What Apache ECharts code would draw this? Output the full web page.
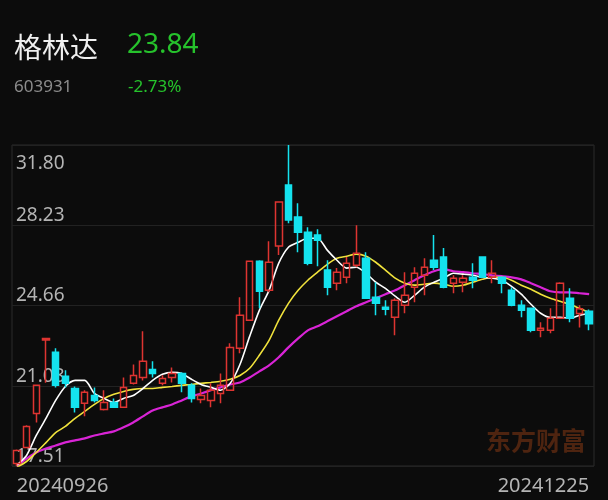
<!DOCTYPE html>
<html>
<head>
<meta charset="utf-8">
<script src="https://cdn.jsdelivr.net/npm/echarts@6/dist/echarts.min.js"></script>
<style>
html,body{margin:0;padding:0;background:#0c0c0c;}
#c{width:608px;height:500px;}
</style>
</head>
<body>
<div id="c"></div>
<script>
const stockName = '格林达';
const stockCode = '603931';
const lastPrice = '23.84';
const changePct = '-2.73%';
const watermark = '东方财富';

const dates = [
 '20240926','20240927','20240930',
 '20241008','20241009','20241010','20241011','20241014','20241015','20241016','20241017','20241018',
 '20241021','20241022','20241023','20241024','20241025','20241028','20241029','20241030','20241031',
 '20241101','20241104','20241105','20241106','20241107','20241108','20241111','20241112','20241113',
 '20241114','20241115','20241118','20241119','20241120','20241121','20241122','20241125','20241126',
 '20241127','20241128','20241129',
 '20241202','20241203','20241204','20241205','20241206','20241209','20241210','20241211','20241212',
 '20241213','20241216','20241217','20241218','20241219','20241220','20241223','20241224','20241225'
];

// [open, close, low, high]
const ohlc = [
 [17.62,18.20,17.51,18.25],[18.33,19.27,18.30,19.32],[19.85,21.10,19.45,21.12],[23.12,23.19,21.22,23.19],
 [22.57,21.10,21.01,22.75],[21.50,21.19,21.01,21.77],[20.96,20.12,19.89,21.05],[20.30,20.79,19.72,20.88],
 [20.65,20.43,20.34,21.01],[20.03,20.34,19.98,20.88],[20.34,20.12,20.10,20.52],[20.12,21.01,20.10,21.45],
 [21.19,21.54,21.14,22.03],[21.45,22.17,21.32,23.51],[21.81,21.63,21.45,22.17],[21.19,21.40,21.10,21.55],
 [21.45,21.63,21.23,21.90],[21.63,21.19,20.79,21.68],[21.10,20.52,20.34,21.19],[20.47,20.65,20.30,20.96],
 [20.43,20.88,20.12,21.19],[20.74,21.10,20.30,21.63],[20.88,22.79,20.85,22.97],[22.75,24.22,22.53,25.02],
 [24.00,26.63,23.98,26.65],[26.63,25.29,24.53,26.67],[25.33,26.58,25.25,27.52],[27.30,29.26,26.90,29.28],
 [30.02,28.46,28.32,31.80],[28.59,27.92,27.03,29.21],[27.92,26.54,26.45,28.14],[27.79,27.56,26.40,28.05],
 [26.23,25.47,25.11,26.67],[25.65,26.14,25.33,26.32],[25.91,26.54,25.65,26.81],[26.45,26.98,26.36,28.23],
 [26.76,24.98,24.96,27.03],[25.02,24.75,24.22,25.69],[24.58,24.49,24.22,24.89],[24.13,24.89,23.33,24.98],
 [24.67,25.11,24.31,26.14],[25.47,26.09,24.80,26.36],[26.00,26.36,25.11,26.76],[26.67,26.36,26.23,27.79],
 [26.81,25.47,25.42,27.21],[25.65,25.87,25.20,26.00],[25.69,25.87,25.24,26.00],[25.91,25.78,25.42,26.54],
 [26.81,25.91,25.89,26.83],[25.91,26.09,25.65,26.67],[25.91,25.65,25.20,25.95],[25.33,24.67,24.62,25.47],
 [24.67,24.44,24.13,24.89],[24.53,23.55,23.46,24.55],[23.55,23.64,23.24,23.91],[23.55,24.09,23.42,24.53],
 [24.09,25.65,24.05,25.69],[24.98,24.09,23.91,25.42],[24.30,24.51,23.68,24.67],[24.40,23.84,23.55,24.48]
];

const ma5 = [
 17.55,17.98,18.87,19.63,20.43,21.05,21.32,21.32,20.74,20.52,20.34,20.52,20.65,20.96,21.32,
 21.59,21.68,21.63,21.37,21.14,21.01,20.88,21.19,22.03,23.28,24.44,25.33,26.54,27.25,27.47,
 27.65,27.65,27.12,26.67,26.32,26.36,26.09,25.69,25.42,25.07,24.80,25.11,25.47,25.69,25.87,
 26.09,26.05,26.00,25.91,25.87,25.78,25.51,25.16,24.71,24.31,24.13,24.13,24.09,24.22,24.31
];
const ma10 = [
 17.45,17.71,18.11,18.55,19.00,19.27,19.63,19.94,20.25,20.52,20.70,20.83,20.92,20.96,20.96,
 21.01,21.05,21.10,21.14,21.19,21.23,21.28,21.37,21.54,21.86,22.44,23.10,24.00,24.75,25.33,
 25.78,26.14,26.49,26.76,26.85,26.94,26.85,26.58,26.23,25.87,25.65,25.56,25.60,25.65,25.60,
 25.51,25.56,25.69,25.82,25.91,25.91,25.78,25.56,25.38,25.16,24.98,24.84,24.71,24.53,24.35
];
const ma20 = [
 17.50,17.84,18.11,18.29,18.42,18.56,18.65,18.74,18.87,18.96,19.05,19.23,19.45,19.72,19.98,
 20.12,20.25,20.43,20.61,20.74,20.88,21.01,21.14,21.23,21.45,21.72,21.99,22.35,22.79,23.19,
 23.55,23.73,23.95,24.18,24.40,24.62,24.80,24.98,25.16,25.33,25.56,25.78,26.00,26.18,26.27,
 26.18,26.14,26.09,26.05,26.00,25.96,25.91,25.82,25.65,25.47,25.29,25.24,25.24,25.20,25.16
];

const yTickLabels = ['17.51','21.08','24.66','28.23','31.80'];
const yMin = 17.51, yMax = 31.80;

const chart = echarts.init(document.getElementById('c'));
const GREEN = '#26c22c';
const RED = '#de3431';
const CYAN = '#14e2ee';
const labelStyle = {color:'#b4b4b4', fontSize:19, fontFamily:'Noto Sans'};

const lineSeries = (data, color, width) => ({
  type:'line', data:data, xAxisIndex:0, yAxisIndex:0, symbol:'none', smooth:0.25,
  lineStyle:{color:color, width:width}, z:2, silent:true
});

chart.setOption({
  backgroundColor:'#0c0c0c',
  animation:false,
  grid:{left:12, right:14, top:145, bottom:34, show:true, borderColor:'#2a2a2a', borderWidth:1},
  graphic:[
    {type:'text', left:14, top:33, style:{text:stockName, fill:'#efefef', fontSize:28, fontFamily:'Noto Sans CJK SC'}},
    {type:'text', left:127, top:31, style:{text:lastPrice, fill:GREEN, fontSize:28, fontFamily:'Noto Sans'}},
    {type:'text', left:14, top:79, style:{text:stockCode, fill:'#8c8c8c', fontSize:17, fontFamily:'Noto Sans'}},
    {type:'text', left:128, top:79, style:{text:changePct, fill:GREEN, fontSize:17, fontFamily:'Noto Sans'}},
    {type:'text', left:486, top:428, style:{text:watermark, fill:'#4e2410', fontSize:25, fontWeight:'bold', fontFamily:'Noto Sans CJK SC'}}
  ],
  xAxis:{
    type:'category', data:dates, boundaryGap:true,
    axisLine:{show:false}, axisTick:{show:false}, splitLine:{show:false},
    axisLabel:{
      interval:function(i){ return i===0 || i===dates.length-1; },
      color:'#b4b4b4', fontSize:20, fontFamily:'Noto Sans', margin:10,
      alignMinLabel:'left', alignMaxLabel:'right'
    }
  },
  yAxis:[
    {type:'value', min:yMin, max:yMax, show:false, scale:true, splitLine:{show:false}},
    {type:'value', min:0, max:4, interval:1, position:'left',
     axisLine:{show:false}, axisTick:{show:false},
     splitLine:{show:true, lineStyle:{color:'#222222', width:1}},
     axisLabel:Object.assign({inside:true, margin:4, verticalAlign:'bottom', lineHeight:19, showMaxLabel:false,
       formatter:function(v){ return v<4 ? yTickLabels[v] : ''; }}, labelStyle)},
    {type:'value', min:0, max:4, interval:4, position:'left',
     axisLine:{show:false}, axisTick:{show:false}, splitLine:{show:false},
     axisLabel:Object.assign({inside:true, margin:4, verticalAlign:'top', padding:[9,0,0,0], showMinLabel:false,
       formatter:function(v){ return v===4 ? yTickLabels[4] : ''; }}, labelStyle)}
  ],
  series:[
    lineSeries(ma20, '#d924d6', 2.2),
    lineSeries(ma10, '#f0e23c', 1.6),
    lineSeries(ma5, '#ffffff', 1.6),
    {
      type:'candlestick', data:ohlc, xAxisIndex:0, yAxisIndex:0, barWidth:7, z:3,
      itemStyle:{color:'rgba(0,0,0,0)', color0:CYAN, borderColor:RED, borderColor0:CYAN, borderWidth:1.5}
    }
  ]
});
</script>
</body>
</html>
